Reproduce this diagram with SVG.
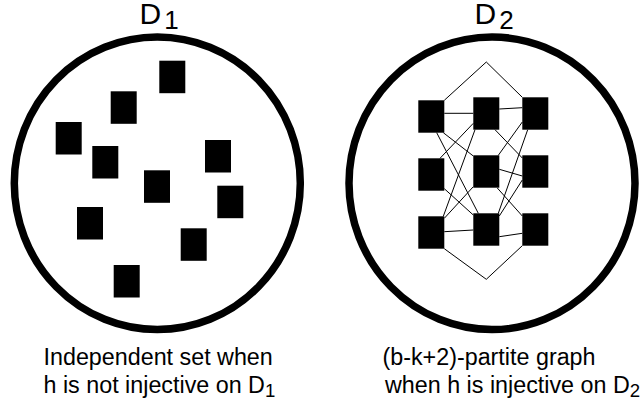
<svg xmlns="http://www.w3.org/2000/svg" width="644" height="406" viewBox="0 0 644 406">
<style>
.ring{fill:none;stroke:#000;stroke-width:7.5}
.box{fill:#000}
.edge{stroke:#000;stroke-width:1;fill:none}
.t{font-family:"Liberation Sans",Arial,sans-serif;fill:#000}
</style>
<rect width="644" height="406" fill="#fff"/>
<g id="D1">
  <ellipse class="ring" cx="157.3" cy="183.3" rx="143" ry="146.3"/>
  <text class="t" x="139.5" y="23.5" font-size="30">D<tspan font-size="26" dx="3" dy="5">1</tspan></text>
</g>
<g id="D1-vertices">
  <rect id="a1" class="box" x="159.3" y="60.7" width="26" height="32.5"/>
  <rect id="a2" class="box" x="110.7" y="91.3" width="26" height="32.5"/>
  <rect id="a3" class="box" x="55.7" y="122" width="26" height="32.5"/>
  <rect id="a4" class="box" x="92.3" y="146" width="26" height="32.5"/>
  <rect id="a5" class="box" x="205" y="140" width="26" height="32.5"/>
  <rect id="a6" class="box" x="144" y="170.3" width="26" height="32.5"/>
  <rect id="a7" class="box" x="217.3" y="185.7" width="26" height="32.5"/>
  <rect id="a8" class="box" x="77" y="207" width="26" height="32.5"/>
  <rect id="a9" class="box" x="180.7" y="228.3" width="26" height="32.5"/>
  <rect id="a10" class="box" x="113.7" y="265" width="26" height="32.5"/>
</g>
<g id="D2">
  <ellipse class="ring" cx="492" cy="183.3" rx="143" ry="146.3"/>
  <text class="t" x="474.5" y="23.5" font-size="30">D<tspan font-size="26" dx="3" dy="5">2</tspan></text>
</g>
<g id="connectors">
  <polyline class="edge" points="444.3,100.3 486.3,62 522.3,97.3"/>
  <polyline class="edge" points="444.3,248.7 486.3,279.3 522.3,245.7"/>
  <line class="edge" x1="444.3" y1="113.3" x2="473.3" y2="113.3"/>
  <line class="edge" x1="436.7" y1="132.7" x2="478.3" y2="213.3"/>
  <line class="edge" x1="443.3" y1="132.7" x2="473.3" y2="156"/>
  <line class="edge" x1="440" y1="158.3" x2="473.3" y2="123.3"/>
  <line class="edge" x1="443.3" y1="216.3" x2="475" y2="129.7"/>
  <line class="edge" x1="444.3" y1="188.7" x2="473.3" y2="215"/>
  <line class="edge" x1="444.3" y1="218.3" x2="473.3" y2="186.7"/>
  <line class="edge" x1="444.3" y1="231.7" x2="473.3" y2="230"/>
  <line class="edge" x1="499.3" y1="109" x2="522.3" y2="107.7"/>
  <line class="edge" x1="495" y1="129.7" x2="522.3" y2="158"/>
  <line class="edge" x1="498.3" y1="155.3" x2="522.3" y2="122"/>
  <line class="edge" x1="499.3" y1="169.3" x2="522.3" y2="176"/>
  <line class="edge" x1="497.3" y1="188" x2="522.3" y2="216"/>
  <line class="edge" x1="498.3" y1="213.3" x2="527.7" y2="129.7"/>
  <line class="edge" x1="499.3" y1="216" x2="522.3" y2="180"/>
  <line class="edge" x1="499.3" y1="236.7" x2="522.3" y2="233.3"/>
</g>
<g id="D2-vertices">
  <rect id="b11" class="box" x="418.3" y="100.3" width="26" height="32.4"/>
  <rect id="b12" class="box" x="418.3" y="158.3" width="26" height="32.4"/>
  <rect id="b13" class="box" x="418.3" y="216.3" width="26" height="32.4"/>
  <rect id="b21" class="box" x="473.3" y="97.3" width="26" height="32.4"/>
  <rect id="b22" class="box" x="473.3" y="155.3" width="26" height="32.4"/>
  <rect id="b23" class="box" x="473.3" y="213.3" width="26" height="32.4"/>
  <rect id="b31" class="box" x="522.3" y="97.3" width="26" height="32.4"/>
  <rect id="b32" class="box" x="522.3" y="155.3" width="26" height="32.4"/>
  <rect id="b33" class="box" x="522.3" y="213.3" width="26" height="32.4"/>
</g>
<g id="captions">
  <text class="t" x="43.5" y="365" font-size="23.3">Independent set when</text>
  <text class="t" x="43.5" y="393" font-size="23.3">h is not injective on D<tspan font-size="18.6" dy="4">1</tspan></text>
  <text class="t" x="382.5" y="365" font-size="23.3">(b-k+2)-partite graph</text>
  <text class="t" x="385" y="393" font-size="23.3">when h is injective on D<tspan font-size="18.6" dy="4">2</tspan></text>
</g>
</svg>
